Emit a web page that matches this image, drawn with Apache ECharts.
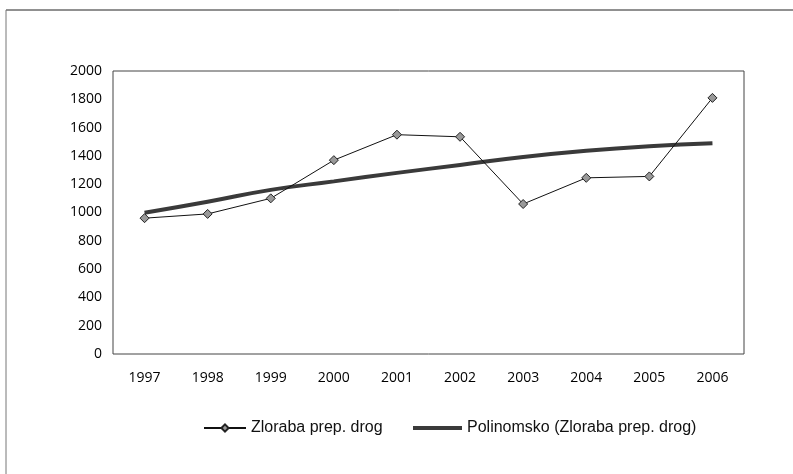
<!DOCTYPE html>
<html>
<head>
<meta charset="utf-8">
<script src="https://cdn.jsdelivr.net/npm/echarts@6/dist/echarts.min.js"></script>
<style>
  html, body { margin: 0; padding: 0; background: #fff; }
  #chart { width: 793px; height: 474px; }
</style>
</head>
<body>
<div id="chart"></div>
<script>
const years = ['1997', '1998', '1999', '2000', '2001', '2002', '2003', '2004', '2005', '2006']
const abuse = [960, 990, 1100, 1370, 1550, 1535, 1060, 1245, 1255, 1810]
const trend = [998, 1076, 1160, 1220, 1280, 1336, 1392, 1436, 1468, 1489]

let chart = echarts.init(document.getElementById('chart'))

const legendText = { fontFamily: 'Liberation Sans', fontSize: 16, color: '#111' }

let option = {
  animation: false,
  backgroundColor: '#fff',
  textStyle: { fontFamily: 'Open Sans' },
  graphic: [
    { type: 'line', shape: { x1: 6, y1: 10, x2: 793, y2: 10 }, style: { stroke: '#222', lineWidth: 1 } },
    { type: 'line', shape: { x1: 6, y1: 10, x2: 6, y2: 474 }, style: { stroke: '#777', lineWidth: 1 } }
  ],
  grid: {
    left: 113,
    right: 49,
    top: 71,
    bottom: 120,
    show: true,
    borderColor: '#444',
    borderWidth: 1
  },
  legend: [
    {
      left: 198,
      top: 415,
      itemWidth: 42,
      itemHeight: 9,
      itemGap: 10,
      textStyle: legendText,
      data: ['Zloraba prep. drog']
    },
    {
      left: 408,
      top: 415,
      itemWidth: 49,
      itemHeight: 4,
      icon: 'rect',
      textStyle: legendText,
      data: ['Polinomsko (Zloraba prep. drog)']
    }
  ],
  xAxis: {
    type: 'category',
    data: years,
    boundaryGap: true,
    axisLine: { show: false },
    axisTick: { show: false },
    axisLabel: { color: '#000', fontSize: 14, margin: 17 }
  },
  yAxis: {
    type: 'value',
    min: 0,
    max: 2000,
    interval: 200,
    axisLine: { show: false },
    axisTick: { show: false },
    splitLine: { show: false },
    axisLabel: { color: '#000', fontSize: 14, margin: 11, formatter: v => String(v) }
  },
  series: [
    {
      name: 'Zloraba prep. drog',
      type: 'line',
      data: abuse,
      symbol: 'diamond',
      symbolSize: 9,
      lineStyle: { color: '#111', width: 1 },
      itemStyle: { color: '#999', borderColor: '#222', borderWidth: 1 },
      z: 3
    },
    {
      name: 'Polinomsko (Zloraba prep. drog)',
      type: 'line',
      data: trend,
      smooth: true,
      symbol: 'none',
      lineStyle: { color: '#3a3a3a', width: 4 },
      itemStyle: { color: '#3a3a3a' },
      z: 2
    }
  ]
}

chart.setOption(option)
</script>
</body>
</html>
